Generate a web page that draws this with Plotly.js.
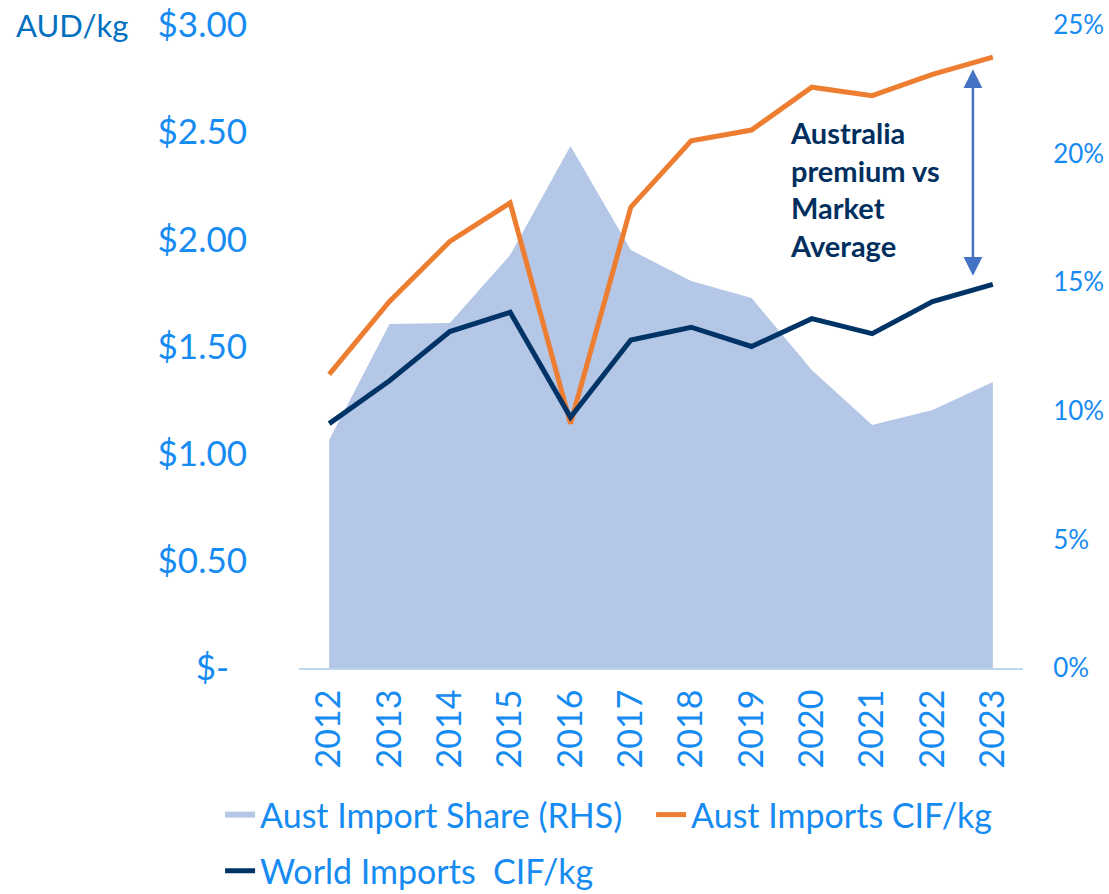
<!DOCTYPE html>
<html>
<head>
<meta charset="utf-8">
<script src="https://cdn.plot.ly/plotly-3.0.1.min.js"></script>
<style>html,body{margin:0;padding:0;background:#fff;}#chart{width:1109px;height:894px;}</style>
</head>
<body>
<div id="chart"></div>
<script>
const years = ["2012","2013","2014","2015","2016","2017","2018","2019","2020","2021","2022","2023"];
const austImportShare = [0.0886,0.1337,0.1341,0.1606,0.2030,0.1625,0.1505,0.1439,0.1159,0.0945,0.1003,0.1112];
const austImportsCIF = [1.37,1.71,1.99,2.17,1.14,2.15,2.46,2.51,2.71,2.67,2.77,2.85];
const worldImportsCIF = [1.14,1.34,1.57,1.66,1.17,1.53,1.59,1.50,1.63,1.56,1.71,1.79];
const leftTickVals = [0,0.5,1,1.5,2,2.5,3];
const leftTickText = ["$-&nbsp;&nbsp;","$0.50","$1.00","$1.50","$2.00","$2.50","$3.00"];
const rightTickVals = [0,0.05,0.10,0.15,0.20,0.25];
const rightTickText = ["0%","5%","10%","15%","20%","25%"];

const FONT = "Lato, 'Open Sans', sans-serif";
const TICK = "#168BF2";

const traces = [
  {x: years, y: austImportShare, yaxis: "y", type: "scatter", mode: "none",
   fill: "tozeroy", fillcolor: "#B4C7E7", name: "Aust Import Share (RHS)", line:{width:0}, legend: "legend"},
  {x: years, y: austImportsCIF, yaxis: "y2", type: "scatter", mode: "lines",
   line: {color: "#ED7D31", width: 5}, name: "Aust Imports CIF/kg", legend: "legend"},
  {x: years, y: worldImportsCIF, yaxis: "y2", type: "scatter", mode: "lines",
   line: {color: "#003366", width: 5}, name: "World Imports  CIF/kg", legend: "legend2"}
];

const legendBase = {orientation: "h", xanchor: "left", yanchor: "middle", xref: "paper", yref: "paper",
  font: {size: 34, color: TICK, family: FONT}, itemwidth: 30, bgcolor: "rgba(0,0,0,0)"};

const layout = {
  width: 1109, height: 894,
  margin: {l: 299, r: 86, t: 25, b: 226, autoexpand: false},
  paper_bgcolor: "#fff", plot_bgcolor: "#fff",
  font: {family: FONT, color: TICK},
  showlegend: true,
  xaxis: {type: "category", range: [-0.5, 11.5], tickangle: -90,
    tickfont: {size: 34, color: TICK, family: FONT}, showgrid: false,
    showline: true, linecolor: "#BDD7EE", linewidth: 2, ticks: "outside", ticklen: 6,
    tickcolor: "rgba(0,0,0,0)", zeroline: false},
  yaxis: {range: [0, 0.25], side: "right", tickvals: rightTickVals, ticktext: rightTickText,
    tickfont: {size: 26, color: TICK, family: FONT}, showgrid: false, zeroline: false,
    showline: false, ticks: "outside", ticklen: 24, tickcolor: "rgba(0,0,0,0)"},
  yaxis2: {range: [0, 3], overlaying: "y", side: "left", tickvals: leftTickVals, ticktext: leftTickText,
    tickfont: {size: 35, color: TICK, family: FONT}, showgrid: false, zeroline: false,
    showline: false, ticks: "outside", ticklen: 44, tickcolor: "rgba(0,0,0,0)"},
  legend: Object.assign({}, legendBase, {x: -0.109, y: -0.2286, entrywidth: 386}),
  legend2: Object.assign({}, legendBase, {x: -0.109, y: -0.316}),
  annotations: [
    {text: "AUD/kg", xref: "paper", yref: "paper", x: -0.394, y: 1.0, xanchor: "left", yanchor: "middle",
     showarrow: false, font: {size: 31, color: "#0070C0", family: FONT}},
    {text: "Australia<br>premium vs<br>Market<br>Average", xref: "x", yref: "y2", x: 7.61, y: 2.235,
     xanchor: "left", yanchor: "middle", align: "left", showarrow: false,
     font: {size: 29, color: "#002F5F", family: FONT, weight: "bold"}},
    {xref: "x", yref: "y2", x: 10.67, y: 1.83, ax: 10.67, ay: 2.80, axref: "x", ayref: "y2",
     showarrow: true, arrowhead: 2, startarrowhead: 2, arrowside: "end+start", arrowsize: 1.5,
     startarrowsize: 1.5, arrowwidth: 2.5, arrowcolor: "#4472C4", text: ""}
  ]
};

Plotly.newPlot("chart", traces, layout, {displayModeBar: false, staticPlot: true});
</script>
</body>
</html>
